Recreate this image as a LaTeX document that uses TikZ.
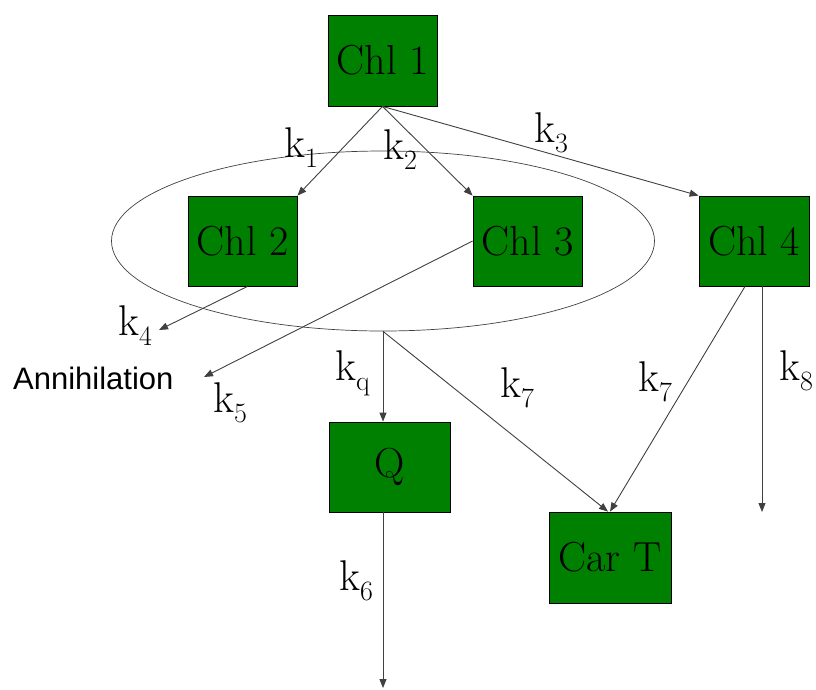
\documentclass[tikz,border=0pt]{standalone}
\usepackage{fontspec}
\newfontfamily\annfont{Liberation Sans}
\usetikzlibrary{arrows.meta,shapes.geometric}
\definecolor{chlgreen}{RGB}{0,128,0}
\definecolor{wire}{RGB}{64,64,64}

% rate label: k with lowered subscript
\newcommand{\krate}[1]{k\raisebox{-10pt}{\fontsize{28}{28}\selectfont #1}}

\begin{document}
\begin{tikzpicture}[x=1pt,y=-1pt,
  pigment/.style={draw=black, line width=0.8pt, fill=chlgreen, inner sep=0pt,
    font=\rmfamily\fontsize{42}{44}\selectfont},
  rate/.style={anchor=base west, inner sep=0pt, font=\rmfamily\fontsize{43}{45}\selectfont},
  flow/.style={draw=wire, line width=0.9pt, -{Triangle[length=9pt,width=7pt]}}]

\useasboundingbox (0,0) rectangle (816,689);

% ---- excitation pool ----
\node[ellipse, draw=wire, line width=0.7pt, minimum width=543, minimum height=180,
  inner sep=0pt] (pool) at (383,241) {};

% ---- pigments ----
\node[pigment, minimum width=109, minimum height=91] (chlone)   at (382.5,60.5) {Chl 1};
\node[pigment, minimum width=109, minimum height=90] (chltwo)   at (242.5,241)  {Chl 2};
\node[pigment, minimum width=109, minimum height=90] (chlthree) at (527.5,241)  {Chl 3};
\node[pigment, minimum width=110, minimum height=90] (chlfour)  at (754,241)    {Chl 4};
\node[pigment, minimum width=121, minimum height=90] (quench)   at (389.5,467)  {Q};
\node[pigment, minimum width=122, minimum height=91] (cart)     at (610,557.5)  {Car T};

% free ends
\coordinate (annA) at (159,330);
\coordinate (annB) at (204,377);
\coordinate (lossQ) at (383,688);
\coordinate (lossF) at (762,512);

\node[anchor=base west, inner sep=0pt, font=\annfont\fontsize{31}{33}\selectfont]
  (annih) at (13,389) {Annihilation};

% ---- transfers ----
\draw[flow] (chlone.south) -- (chltwo.north east);
\draw[flow] (chlone.south) -- (chlthree.north west);
\draw[flow] (chlone.south) -- (chlfour.north west);
\draw[flow] ([xshift=5pt]chltwo.south) -- (annA);
\draw[flow] (chlthree.west) -- (annB);
\draw[flow] (pool.south) -- (pool.south |- quench.north);
\draw[flow] (pool.south) -- ([xshift=-2pt]cart.north);
\draw[flow] ([xshift=-9pt]chlfour.south) -- (cart.north);
\draw[flow] ([xshift=8pt]chlfour.south) -- (lossF);
\draw[flow] ([xshift=-6.5pt]quench.south) -- (lossQ);

% ---- rate labels ----
\node[rate] (kone)   at (284,157) {\krate{1}};
\node[rate] (ktwo)   at (383,159) {\krate{2}};
\node[rate] (kthree) at (534,142) {\krate{3}};
\node[rate] (kfour)  at (118,335) {\krate{4}};
\node[rate] (kfive)  at (213,412) {\krate{5}};
\node[rate] (kq)     at (335,380) {\krate{q}};
\node[rate] (ksevA)  at (500,397) {\krate{7}};
\node[rate] (ksevB)  at (638,391) {\krate{7}};
\node[rate] (keight) at (779,380) {\krate{8}};
\node[rate] (ksix)   at (339,590) {\krate{6}};

\end{tikzpicture}
\end{document}
